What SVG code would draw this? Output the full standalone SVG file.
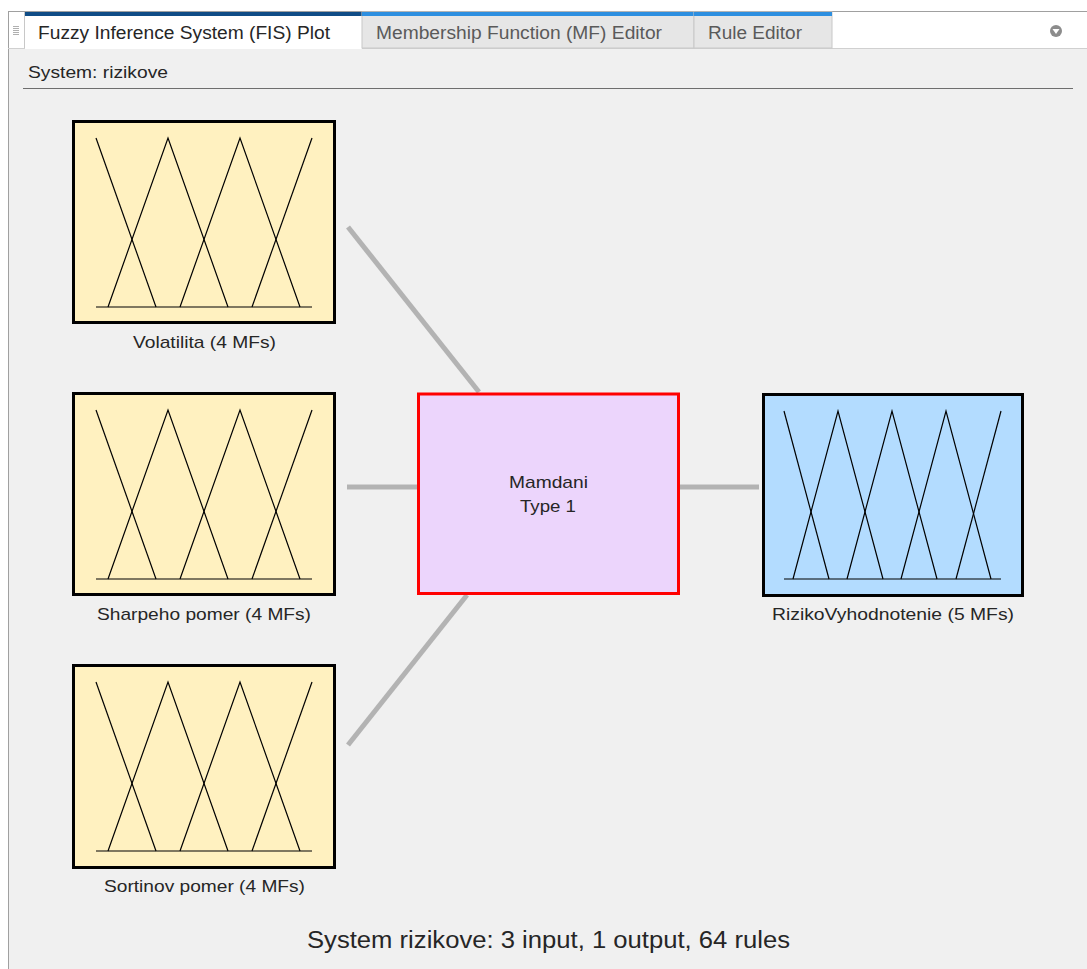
<svg xmlns="http://www.w3.org/2000/svg" width="1087" height="969" viewBox="0 0 1087 969">
<defs>
<style>
.txt{font-family:"Liberation Sans",Arial,sans-serif;fill:#262626}
.tab{font-family:"Liberation Sans",Arial,sans-serif;font-size:18px}
.lbl{font-family:"Liberation Sans",Arial,sans-serif;font-size:17px;fill:#262626}
.conn{stroke:#b3b3b3;stroke-width:5;fill:none}
.inbox{fill:#fff1c0;stroke:#000;stroke-width:3}
.outbox{fill:#b3dcff;stroke:#000;stroke-width:3}
.mf{fill:none;stroke:#000;stroke-width:1.2}
</style>
<g id="mf4">
<line class="mf" x1="23" y1="186" x2="239" y2="186"/>
<polyline class="mf" points="23,17 83,186"/>
<polyline class="mf" points="35,186 95,17 155,186"/>
<polyline class="mf" points="107,186 167,17 227,186"/>
<polyline class="mf" points="179,186 239,17"/>
</g>
<g id="mf5">
<line class="mf" x1="21" y1="185" x2="238" y2="185"/>
<polyline class="mf" points="21,17 66,185"/>
<polyline class="mf" points="30,185 75,17 120,185"/>
<polyline class="mf" points="84,185 129,17 174,185"/>
<polyline class="mf" points="138,185 183,17 228,185"/>
<polyline class="mf" points="193,185 238,17"/>
</g>
</defs>
<rect x="0" y="0" width="1087" height="969" fill="#ffffff"/>
<!-- panel -->
<rect x="8" y="48" width="1079" height="921" fill="#f0f0f0"/>
<line x1="8.5" y1="11" x2="8.5" y2="969" stroke="#a0a0a0" stroke-width="1"/>
<line x1="8" y1="11.5" x2="1087" y2="11.5" stroke="#a0a0a0" stroke-width="1"/>
<!-- grip -->
<g stroke="#b0b0b0" stroke-width="1">
<line x1="13" y1="26.5" x2="19" y2="26.5"/>
<line x1="13" y1="28.5" x2="19" y2="28.5"/>
<line x1="13" y1="30.5" x2="19" y2="30.5"/>
<line x1="13" y1="32.5" x2="19" y2="32.5"/>
<line x1="13" y1="34.5" x2="19" y2="34.5"/>
</g>
<line x1="8" y1="48.5" x2="1087" y2="48.5" stroke="#d0d0d0" stroke-width="1"/>
<!-- tabs -->
<g id="tab1">
<rect x="25" y="12" width="337" height="37" fill="#ffffff"/>
<rect x="25" y="12" width="337" height="4" fill="#0f4c86"/>
<line x1="24.5" y1="12" x2="24.5" y2="48" stroke="#c8c8c8"/>
<text class="tab" x="38" y="39" fill="#262626" textLength="292" lengthAdjust="spacingAndGlyphs">Fuzzy Inference System (FIS) Plot</text>
</g>
<g id="tab2">
<rect x="362" y="12" width="332" height="36" fill="#e6e6e6" stroke="#c8c8c8" stroke-width="1"/>
<rect x="362" y="12" width="332" height="4" fill="#2d8fe0"/>
<text class="tab" x="376" y="39" fill="#5a5a5a" textLength="286" lengthAdjust="spacingAndGlyphs">Membership Function (MF) Editor</text>
</g>
<g id="tab3">
<rect x="694" y="12" width="138" height="36" fill="#e6e6e6" stroke="#c8c8c8" stroke-width="1"/>
<rect x="694" y="12" width="138" height="4" fill="#2d8fe0"/>
<text class="tab" x="708" y="39" fill="#5a5a5a" textLength="94" lengthAdjust="spacingAndGlyphs">Rule Editor</text>
</g>
<g id="menu">
<circle cx="1056" cy="31" r="6" fill="#8c8c8c"/>
<polygon points="1052.5,29 1059.5,29 1056,34" fill="#ffffff"/>
</g>
<text class="txt" x="28" y="78" font-size="17" textLength="140" lengthAdjust="spacingAndGlyphs">System: rizikove</text>
<line x1="23" y1="88.5" x2="1073" y2="88.5" stroke="#6e6e6e" stroke-width="1.2"/>
<!-- connectors -->
<g id="connectors">
<line class="conn" x1="348" y1="227" x2="479" y2="392"/>
<line class="conn" x1="347" y1="487" x2="417" y2="487"/>
<line class="conn" x1="348" y1="745" x2="467" y2="595"/>
<line class="conn" x1="680" y1="487" x2="759" y2="487"/>
</g>
<!-- input nodes -->
<g id="input-volatilita">
<rect class="inbox" x="73.5" y="121.5" width="261" height="201"/>
<use href="#mf4" x="73" y="121"/>
<text class="lbl" x="133" y="348" textLength="143" lengthAdjust="spacingAndGlyphs">Volatilita (4 MFs)</text>
</g>
<g id="input-sharpe">
<rect class="inbox" x="73.5" y="393.5" width="261" height="201"/>
<use href="#mf4" x="73" y="393"/>
<text class="lbl" x="97" y="620" textLength="214" lengthAdjust="spacingAndGlyphs">Sharpeho pomer (4 MFs)</text>
</g>
<g id="input-sortinov">
<rect class="inbox" x="73.5" y="665.5" width="261" height="202"/>
<use href="#mf4" x="73" y="665"/>
<text class="lbl" x="104" y="892" textLength="201" lengthAdjust="spacingAndGlyphs">Sortinov pomer (4 MFs)</text>
</g>
<!-- system node -->
<g id="system">
<rect x="418.5" y="394" width="260" height="199.5" fill="#ecd5fc" stroke="#ff0000" stroke-width="3"/>
<text class="lbl" x="509" y="488" textLength="79" lengthAdjust="spacingAndGlyphs">Mamdani</text>
<text class="lbl" x="520" y="512" textLength="56" lengthAdjust="spacingAndGlyphs">Type 1</text>
</g>
<!-- output node -->
<g id="output-riziko">
<rect class="outbox" x="763.5" y="394.5" width="259" height="201"/>
<use href="#mf5" x="763" y="394"/>
<text class="lbl" x="772" y="620" textLength="242" lengthAdjust="spacingAndGlyphs">RizikoVyhodnotenie (5 MFs)</text>
</g>
<text class="txt" x="307" y="948" font-size="23" fill="#404040" textLength="483" lengthAdjust="spacingAndGlyphs">System rizikove: 3 input, 1 output, 64 rules</text>
</svg>
